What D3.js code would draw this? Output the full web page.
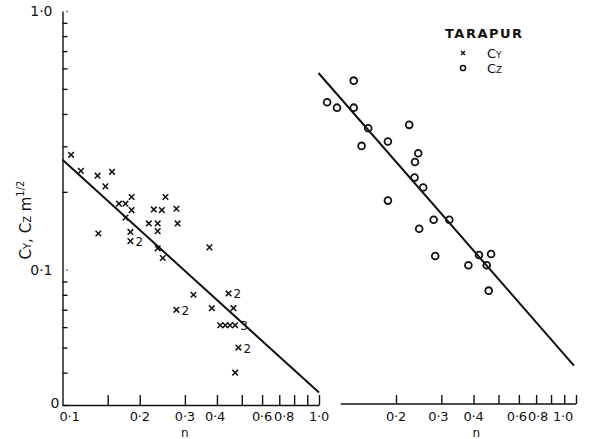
<!DOCTYPE html>
<html lang="en">
<head>
<meta charset="UTF-8">
<title>Tarapur Cy, Cz against n</title>
<script src="https://d3js.org/d3.v7.min.js"></script>
<style>
  body { margin: 0; background: #fff; }
  svg text { font-family: "DejaVu Sans", sans-serif; fill: #111; }
  .axis path, .axis line { stroke: #111; stroke-width: 1.4; }
  .tick-label { font-size: 13px; letter-spacing: -0.2px; }
</style>
</head>
<body>
<svg id="chart" width="597" height="439"></svg>
<script>
// Cy (crosses) - left panel
const cyN = [0.108, 0.118, 0.137, 0.156, 0.147, 0.166, 0.176, 0.186, 0.186, 0.176,
             0.252, 0.227, 0.244, 0.278, 0.217, 0.235, 0.281, 0.235, 0.138, 0.184,
             0.184, 0.235, 0.246, 0.374, 0.324, 0.444, 0.382, 0.464, 0.278, 0.412,
             0.431, 0.450, 0.471, 0.485, 0.471];
const cyC = [0.278, 0.241, 0.231, 0.239, 0.210, 0.180, 0.180, 0.191, 0.170, 0.159,
             0.191, 0.171, 0.170, 0.172, 0.151, 0.151, 0.151, 0.141, 0.138, 0.140,
             0.129, 0.121, 0.111, 0.122, 0.080, 0.081, 0.071, 0.071, 0.070, 0.061,
             0.061, 0.061, 0.061, 0.050, 0.040];
// number of coincident points written beside a cross
const cyTag = ["", "", "", "", "", "", "", "", "", "",
               "", "", "", "", "", "", "", "", "", "",
               "2", "", "", "", "", "2", "", "", "2", "",
               "", "", "3", "2", ""];

// Cz (circles) - right panel
const czN = [0.137, 0.108, 0.118, 0.137, 0.156, 0.225, 0.147, 0.186, 0.244, 0.237,
             0.236, 0.255, 0.186, 0.280, 0.322, 0.246, 0.284, 0.420, 0.468, 0.382,
             0.450, 0.458];
const czC = [0.538, 0.444, 0.423, 0.423, 0.352, 0.363, 0.301, 0.313, 0.282, 0.261,
             0.227, 0.208, 0.185, 0.156, 0.156, 0.144, 0.113, 0.114, 0.115, 0.104,
             0.104, 0.083];

// fitted lines, end points
const fitYN = [0.1, 1.0];
const fitYC = [0.266, 0.0335];
const fitZN = [0.1, 0.982];
const fitZC = [0.576, 0.0426];

// axes
const yTicks = [0.03, 0.04, 0.05, 0.06, 0.07, 0.08, 0.09, 0.1, 0.2, 0.3, 0.4, 0.5, 0.6, 0.7, 0.8, 0.9, 1];
const yLabelVals = [1, 0.1, 0.03];
const yLabelText = ["1·0", "0·1", "0"];
const xTicksL = [0.15, 0.2, 0.3, 0.4, 0.5, 0.6, 0.7, 0.8, 0.9, 1];
const xLabelsL = [0.1, 0.2, 0.3, 0.4, 0.6, 0.8, 1];
const xTicksR = [0.2, 0.3, 0.4, 0.5, 0.6, 0.7, 0.8, 0.9, 1];
const xLabelsR = [0.2, 0.3, 0.4, 0.6, 0.8, 1];

const svg = d3.select("#chart");

const y = d3.scaleLog().domain([0.03, 1]).range([405, 11]);
const xL = d3.scaleLog().domain([0.1, 1]).range([62.5, 319]);
const xR = d3.scaleLog().domain([0.1, 1]).range([318.5, 576]);

const fmt = d => d3.format(".1f")(d).replace(".", "·");

// y axis
const yAxisG = svg.append("g")
    .attr("class", "axis")
    .attr("transform", `translate(${xL(0.1)},0)`)
    .call(d3.axisLeft(y)
        .tickValues(yTicks)
        .tickSize(-5)
        .tickSizeOuter(0)
        .tickPadding(10)
        .tickFormat(d => {
            const i = yLabelVals.indexOf(d);
            return i >= 0 ? yLabelText[i] : "";
        }));
yAxisG.selectAll(".tick text").style("font-size", "14px");
yAxisG.selectAll(".tick").filter(d => d === 1 || d === 0.1).select("line").attr("x1", 4);
yAxisG.selectAll(".tick").filter(d => d === 0.03).select("text").attr("x", -3).attr("dy", "0.2em");

// left x axis
svg.append("g")
    .attr("class", "axis")
    .attr("transform", `translate(0,${y(0.03)})`)
    .call(d3.axisBottom(xL).tickValues(xTicksL).tickSize(-10).tickSizeOuter(0).tickFormat(""));

const shiftL = {0.1: 7, 0.4: -2, 0.8: -10};
svg.append("g").selectAll("text")
    .data(xLabelsL)
    .join("text")
    .attr("class", "tick-label")
    .attr("x", d => xL(d) + (shiftL[d] || 0))
    .attr("y", 421)
    .attr("text-anchor", "middle")
    .text(fmt);

// right x axis
const xAxisRG = svg.append("g")
    .attr("class", "axis")
    .attr("transform", `translate(0,${y(0.03) - 1})`)
    .call(d3.axisBottom(xR).tickValues(xTicksR).tickSize(-9).tickSizeOuter(0).tickFormat(""));
xAxisRG.select(".domain").remove();
xAxisRG.append("line")
    .attr("x1", xR(0.122)).attr("x2", xR(1))
    .attr("stroke", "#111").attr("stroke-width", 1.4);

const shiftR = {0.3: -3, 0.6: -2, 0.8: -13, 1: -13};
svg.append("g").selectAll("text")
    .data(xLabelsR)
    .join("text")
    .attr("class", "tick-label")
    .attr("x", d => xR(d) + (shiftR[d] || 0))
    .attr("y", 421)
    .attr("text-anchor", "middle")
    .text(fmt);

// axis titles
svg.append("text").attr("x", xL(0.3)).attr("y", 437).attr("text-anchor", "middle")
    .style("font-size", "12px").text("n");
svg.append("text").attr("x", xR(0.41)).attr("y", 437).attr("text-anchor", "middle")
    .style("font-size", "12px").text("n");

const yTitle = svg.append("text")
    .attr("transform", "translate(31,220) rotate(-90)")
    .attr("text-anchor", "middle")
    .style("font-size", "15px");
yTitle.append("tspan").text("C");
yTitle.append("tspan").style("font-size", "10px").text("Y");
yTitle.append("tspan").text(", C");
yTitle.append("tspan").style("font-size", "10px").text("Z");
yTitle.append("tspan").text("  m");
yTitle.append("tspan").attr("dy", -7).style("font-size", "10px").text("1/2");

// fitted lines
const line = (xs) => d3.line().x(d => xs(d[0])).y(d => y(d[1]));
svg.append("path")
    .datum(d3.zip(fitYN, fitYC))
    .attr("d", line(xL))
    .attr("fill", "none").attr("stroke", "#111").attr("stroke-width", 2);
svg.append("path")
    .datum(d3.zip(fitZN, fitZC))
    .attr("d", line(xR))
    .attr("fill", "none").attr("stroke", "#111").attr("stroke-width", 2);

// crosses
const crossPath = "M-2.8,-2.8L2.8,2.8M-2.8,2.8L2.8,-2.8";
const cy = d3.zip(cyN, cyC, cyTag);
svg.append("g").selectAll("path")
    .data(cy)
    .join("path")
    .attr("transform", d => `translate(${xL(d[0])},${y(d[1])})`)
    .attr("d", crossPath)
    .attr("stroke", "#111").attr("stroke-width", 1.5).attr("fill", "none");
svg.append("g").selectAll("text")
    .data(cy.filter(d => d[2] !== ""))
    .join("text")
    .attr("x", d => xL(d[0]) + 5)
    .attr("y", d => y(d[1]) + 5)
    .style("font-size", "12px")
    .text(d => d[2]);

// circles
svg.append("g").selectAll("circle")
    .data(d3.zip(czN, czC))
    .join("circle")
    .attr("cx", d => xR(d[0]))
    .attr("cy", d => y(d[1]))
    .attr("r", 3.4)
    .attr("fill", "none").attr("stroke", "#111").attr("stroke-width", 1.8);

// legend
const legend = svg.append("g");
legend.append("text").attr("x", 445).attr("y", 38)
    .style("font-size", "13px").style("font-weight", "bold").style("letter-spacing", "1.5px")
    .text("TARAPUR");
legend.append("path").attr("transform", "translate(463,53)").attr("d", "M-2,-2L2,2M-2,2L2,-2")
    .attr("stroke", "#111").attr("stroke-width", 1.4);
legend.append("circle").attr("cx", 463).attr("cy", 68).attr("r", 2.6)
    .attr("fill", "none").attr("stroke", "#111").attr("stroke-width", 1.5);
const l1 = legend.append("text").attr("x", 487).attr("y", 58).style("font-size", "13px");
l1.append("tspan").text("C");
l1.append("tspan").style("font-size", "9px").text("Y");
const l2 = legend.append("text").attr("x", 487).attr("y", 73).style("font-size", "13px");
l2.append("tspan").text("C");
l2.append("tspan").style("font-size", "9px").text("Z");
</script>
</body>
</html>
